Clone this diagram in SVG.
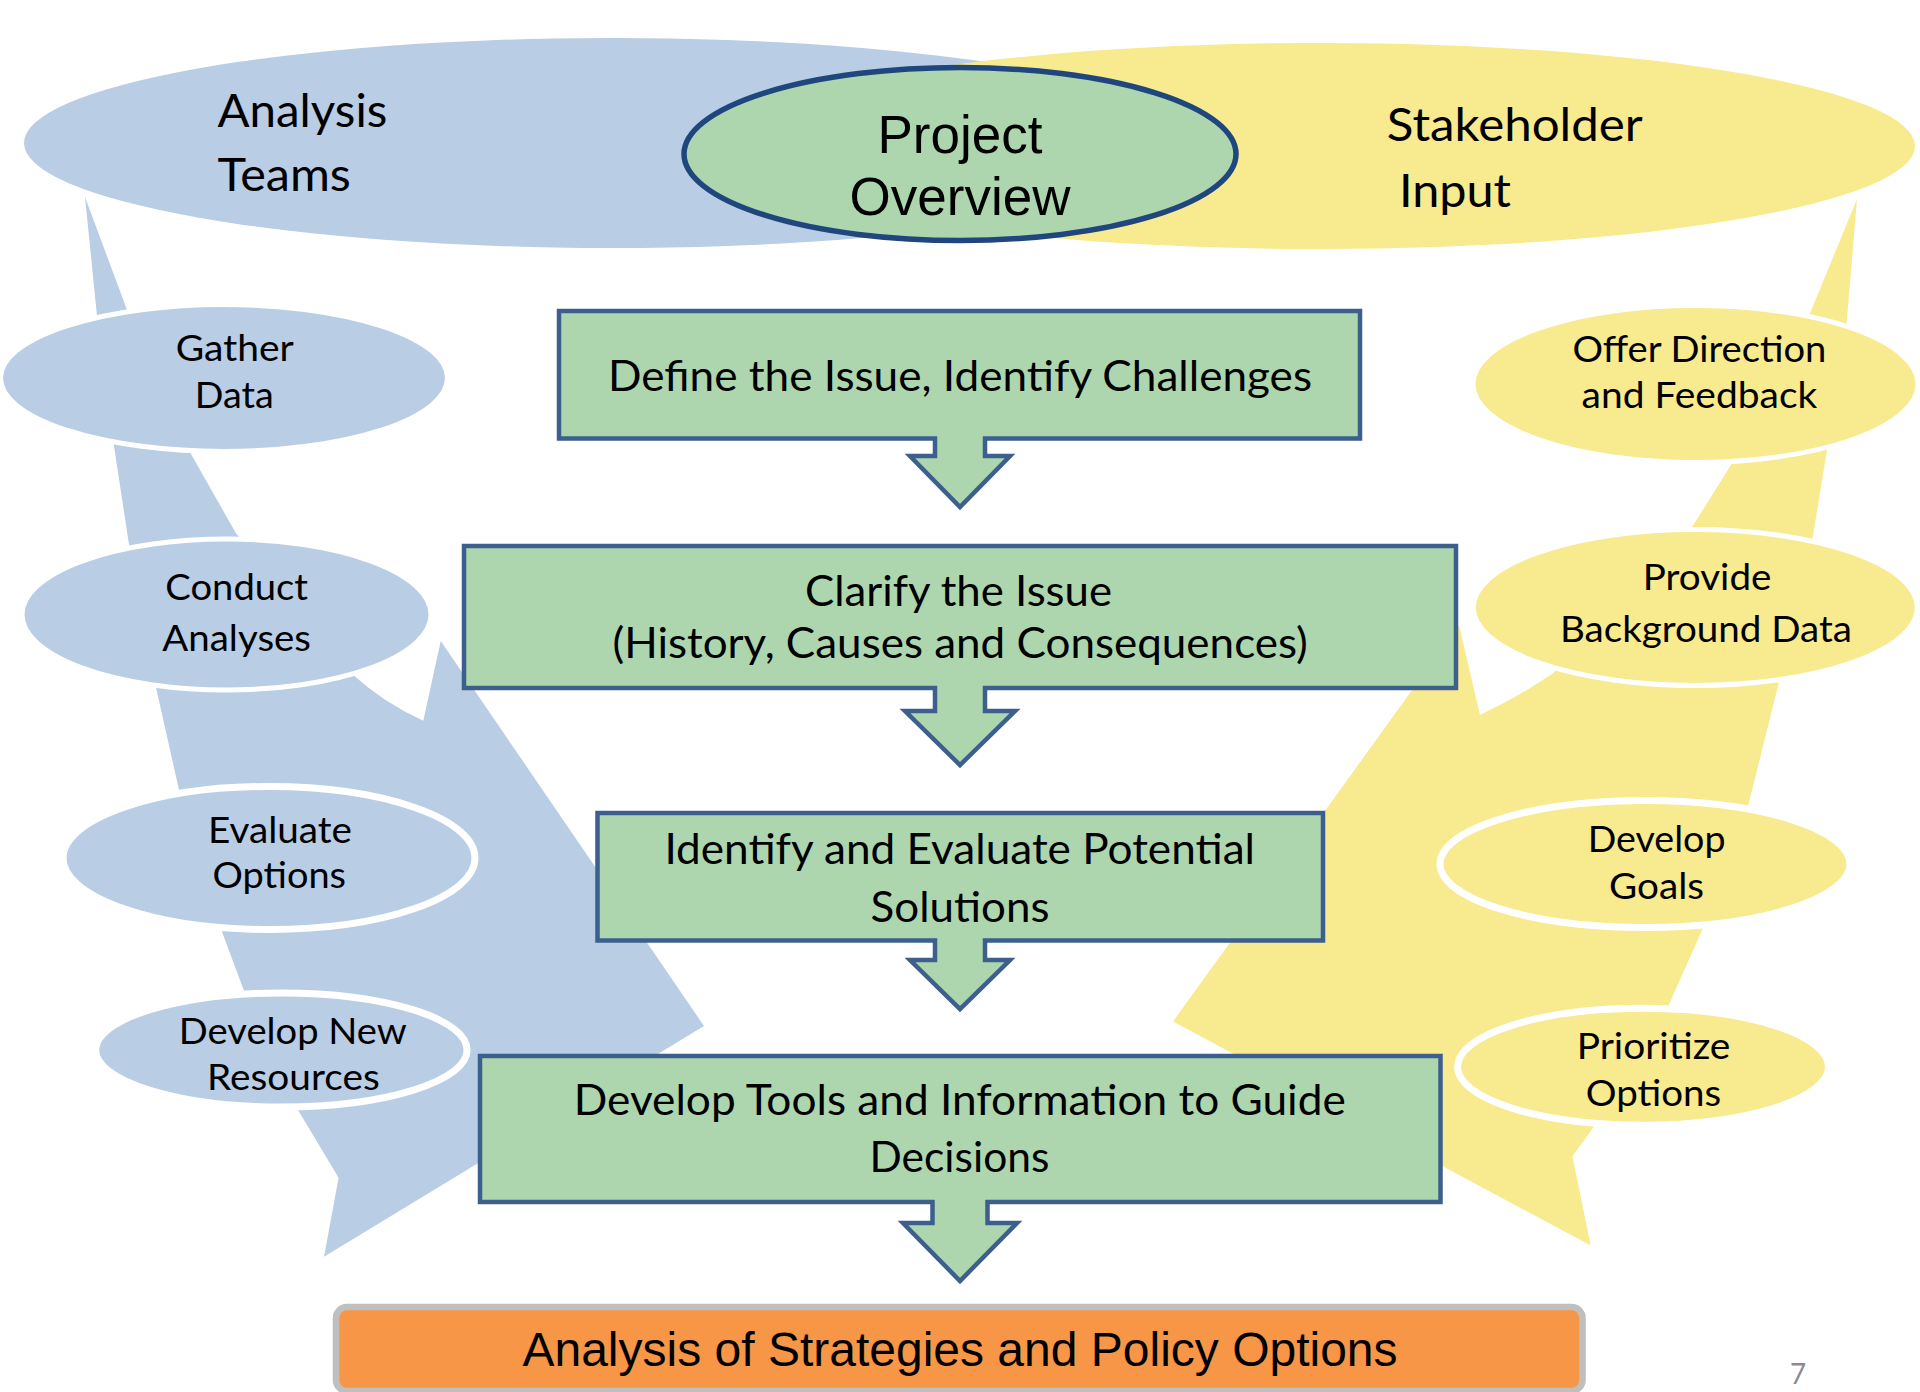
<svg xmlns="http://www.w3.org/2000/svg" width="1920" height="1392" viewBox="0 0 1920 1392">
<style>
.cal{font-family:Lato,"Open Sans","DejaVu Sans",sans-serif;fill:#000}
.t46{font-size:46px}
.t42{font-size:42.5px}
.t37{font-size:37px}
.ar{font-family:"Liberation Sans",Arial,sans-serif;fill:#000}
.blue{fill:#B9CDE5}
.yel{fill:#F8EA8F}
.ring5{stroke:#FFFFFF;stroke-width:5}
.ring7{stroke:#FFFFFF;stroke-width:7}
.box{fill:#ADD6AF;stroke:#3C5F8E;stroke-width:4.5;stroke-linejoin:miter}
</style>
<rect width="1920" height="1392" fill="#FFFFFF"/>

<g id="connectors">
  <path id="analysis-arrow" class="blue" d="M85,197 L96.7,313 L114,446 L128.6,542 L156,687.5 L178.8,789 L221.7,931 L243.7,990 L298,1110 L338.6,1177.7 L324,1256.7 L704,1026 L440.7,641 L423.3,720.7 Q384,703 353.3,675 L235.8,533 L191,454 L126,307.3 Z"/>
  <path id="stakeholder-arrow" class="yel" d="M1857,199 L1811,311 L1730,466.5 L1693.6,524.6 L1553,673.3 Q1518,697 1480,715 L1459,625 L1173,1021.5 L1590.7,1245.6 L1572.4,1156.3 L1592,1129.5 L1669,1004.5 L1702.8,928.6 L1748.7,803.6 L1778,686 L1813,535.7 L1826.5,453 L1847,319 Z"/>
</g>

<g id="analysis-teams">
  <ellipse class="blue" cx="612" cy="143" rx="588" ry="105"/>
  <text class="cal t46" x="217.4" y="127" textLength="170" lengthAdjust="spacingAndGlyphs">Analysis</text>
  <text class="cal t46" x="217.4" y="191" textLength="133.5" lengthAdjust="spacingAndGlyphs">Teams</text>
</g>

<g id="stakeholder-input">
  <ellipse class="yel" cx="1320" cy="146" rx="595" ry="103"/>
  <text class="cal t46" x="1386.8" y="140.6" textLength="256" lengthAdjust="spacingAndGlyphs">Stakeholder</text>
  <text class="cal t46" x="1399" y="206.7" textLength="112" lengthAdjust="spacingAndGlyphs">Input</text>
</g>

<g id="project-overview">
  <ellipse cx="960" cy="154" rx="276" ry="86.5" fill="#ADD6AF" stroke="#1F477E" stroke-width="5.5"/>
  <text class="ar" x="960" y="153" font-size="53" text-anchor="middle">Project</text>
  <text class="ar" x="960" y="215" font-size="53" text-anchor="middle">Overview</text>
</g>

<g id="gather-data">
  <ellipse class="blue ring5" cx="224" cy="378" rx="223.5" ry="73.5"/>
  <text class="cal t37" x="175.7" y="361" textLength="118" lengthAdjust="spacingAndGlyphs">Gather</text>
  <text class="cal t37" x="194.7" y="407.5" textLength="79" lengthAdjust="spacingAndGlyphs">Data</text>
</g>

<g id="conduct-analyses">
  <ellipse class="blue ring5" cx="226.5" cy="614.5" rx="204.5" ry="75.5"/>
  <text class="cal t37" x="165.3" y="600" textLength="142.7" lengthAdjust="spacingAndGlyphs">Conduct</text>
  <text class="cal t37" x="162.3" y="650.5" textLength="148.7" lengthAdjust="spacingAndGlyphs">Analyses</text>
</g>

<g id="evaluate-options">
  <ellipse class="blue ring7" cx="269" cy="858" rx="206" ry="71.5"/>
  <text class="cal t37" x="208" y="842.5" textLength="144" lengthAdjust="spacingAndGlyphs">Evaluate</text>
  <text class="cal t37" x="212.5" y="888" textLength="133.5" lengthAdjust="spacingAndGlyphs">Options</text>
</g>

<g id="develop-new-resources">
  <ellipse class="blue ring7" cx="281.4" cy="1050" rx="185.7" ry="57"/>
  <text class="cal t37" x="178.8" y="1043.5" textLength="228" lengthAdjust="spacingAndGlyphs">Develop New</text>
  <text class="cal t37" x="207" y="1089.5" textLength="172.7" lengthAdjust="spacingAndGlyphs">Resources</text>
</g>

<g id="offer-direction">
  <ellipse class="yel ring5" cx="1695.5" cy="384" rx="222.5" ry="78.5"/>
  <text class="cal t37" x="1572.4" y="362" textLength="254" lengthAdjust="spacingAndGlyphs">Offer Direction</text>
  <text class="cal t37" x="1581.6" y="407.5" textLength="235.7" lengthAdjust="spacingAndGlyphs">and Feedback</text>
</g>

<g id="provide-background-data">
  <ellipse class="yel ring5" cx="1695.3" cy="607.5" rx="222" ry="78"/>
  <text class="cal t37" x="1642.8" y="590" textLength="128.6" lengthAdjust="spacingAndGlyphs">Provide</text>
  <text class="cal t37" x="1560" y="642" textLength="292" lengthAdjust="spacingAndGlyphs">Background Data</text>
</g>

<g id="develop-goals">
  <ellipse class="yel ring7" cx="1645" cy="864" rx="205" ry="63.5"/>
  <text class="cal t37" x="1587.7" y="852" textLength="137.8" lengthAdjust="spacingAndGlyphs">Develop</text>
  <text class="cal t37" x="1609" y="898.5" textLength="95" lengthAdjust="spacingAndGlyphs">Goals</text>
</g>

<g id="prioritize-options">
  <ellipse class="yel ring7" cx="1643" cy="1066.7" rx="185.5" ry="58.5"/>
  <text class="cal t37" x="1576.7" y="1059" textLength="153.7" lengthAdjust="spacingAndGlyphs">Prioritize</text>
  <text class="cal t37" x="1585.8" y="1105.5" textLength="135.4" lengthAdjust="spacingAndGlyphs">Options</text>
</g>

<g id="define-issue">
  <path class="box" d="M559,311 H1360 V438.5 H985 V456 H1010 L960,507 L910,456 H935 V438.5 H559 Z"/>
  <text class="cal t42" x="608" y="390.6" textLength="704" lengthAdjust="spacingAndGlyphs">Define the Issue, Identify Challenges</text>
</g>

<g id="clarify-issue">
  <path class="box" d="M464,546 H1456 V688 H985 V711 H1015 L960,765 L905,711 H935 V688 H464 Z"/>
  <text class="cal t42" x="805" y="605.5" textLength="307" lengthAdjust="spacingAndGlyphs">Clarify the Issue</text>
  <text class="cal t42" x="612.4" y="658" textLength="695.4" lengthAdjust="spacingAndGlyphs">(History, Causes and Consequences)</text>
</g>

<g id="identify-solutions">
  <path class="box" d="M597.5,813 H1323 V940.5 H985 V960 H1010 L960,1009 L910,960 H935 V940.5 H597.5 Z"/>
  <text class="cal t42" x="664.4" y="864" textLength="590.6" lengthAdjust="spacingAndGlyphs">Identify and Evaluate Potential</text>
  <text class="cal t42" x="870.6" y="921.5" textLength="178.8" lengthAdjust="spacingAndGlyphs">Solutions</text>
</g>

<g id="develop-tools">
  <path class="box" d="M480,1056 H1440.5 V1202 H987.5 V1223 H1017 L960,1281 L903,1223 H932.5 V1202 H480 Z"/>
  <text class="cal t42" x="573.8" y="1115" textLength="772" lengthAdjust="spacingAndGlyphs">Develop Tools and Information to Guide</text>
  <text class="cal t42" x="869.6" y="1172" textLength="179.8" lengthAdjust="spacingAndGlyphs">Decisions</text>
</g>

<g id="analysis-of-strategies">
  <rect x="336" y="1307" width="1246.5" height="84" rx="11" ry="11" fill="#F79646" stroke="#BFBFBF" stroke-width="6.6"/>
  <text class="ar" x="960" y="1366" font-size="48" text-anchor="middle">Analysis of Strategies and Policy Options</text>
</g>

<text class="cal" x="1790" y="1384" font-size="28" fill="#8C8C8C" style="fill:#8C8C8C">7</text>
</svg>
